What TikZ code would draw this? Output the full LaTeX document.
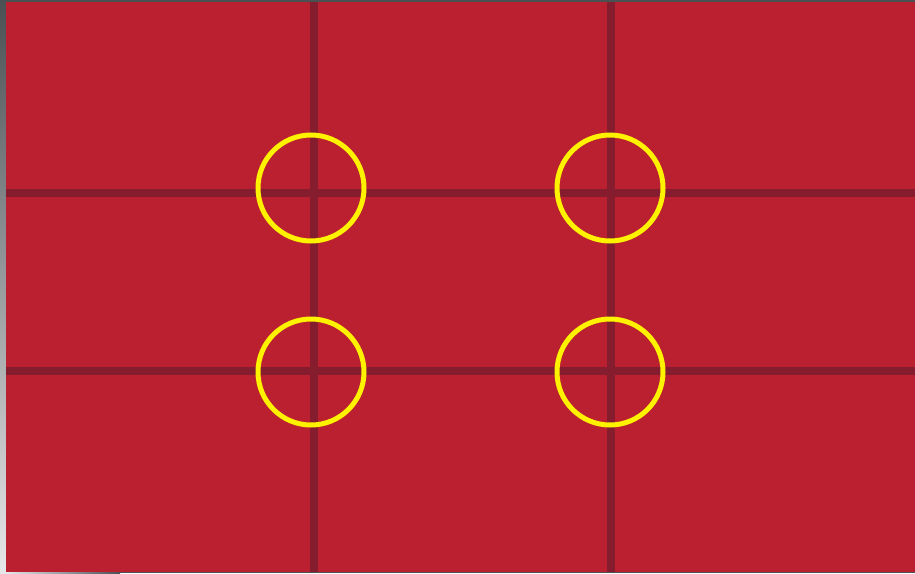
\documentclass[tikz,border=0pt]{standalone}
\definecolor{bgred}{HTML}{BA202F}
\definecolor{gridred}{HTML}{861D2F}
\definecolor{ringyellow}{HTML}{FFF200}
\definecolor{edgedark}{HTML}{4B5053}
\definecolor{edgelight}{HTML}{E6E7E8}
\begin{document}
\begin{tikzpicture}[x=1pt,y=-1pt,
  gridline/.style={draw=gridred,line width=8pt},
  ring/.style={draw=ringyellow,line width=5pt}]
\useasboundingbox (0,0) rectangle (915,573);
% frame edges
\shade[top color=edgedark,bottom color=edgelight] (0,0) rectangle (6,573);
\fill[edgedark] (0,0) rectangle (915,2);
\shade[left color=edgelight,right color=edgedark] (6,572) rectangle (120,573);
\fill[edgedark] (120,572) rectangle (915,573);
% red field
\fill[bgred] (6,2) rectangle (915,572);
% grid coordinates
\coordinate (v1t) at (314,2);   \coordinate (v1b) at (314,572);
\coordinate (v2t) at (611,2);   \coordinate (v2b) at (611,572);
\coordinate (h1l) at (6,193);   \coordinate (h1r) at (915,193);
\coordinate (h2l) at (6,371);   \coordinate (h2r) at (915,371);
\draw[gridline] (v1t) -- (v1b);
\draw[gridline] (v2t) -- (v2b);
\draw[gridline] (h1l) -- (h1r);
\draw[gridline] (h2l) -- (h2r);
% rings
\coordinate (c1) at (311,188);
\coordinate (c2) at (610,188);
\coordinate (c3) at (311,372);
\coordinate (c4) at (610,372);
\foreach \c in {c1,c2,c3,c4}
  \draw[ring] (\c) circle[radius=53];
\end{tikzpicture}
\end{document}
